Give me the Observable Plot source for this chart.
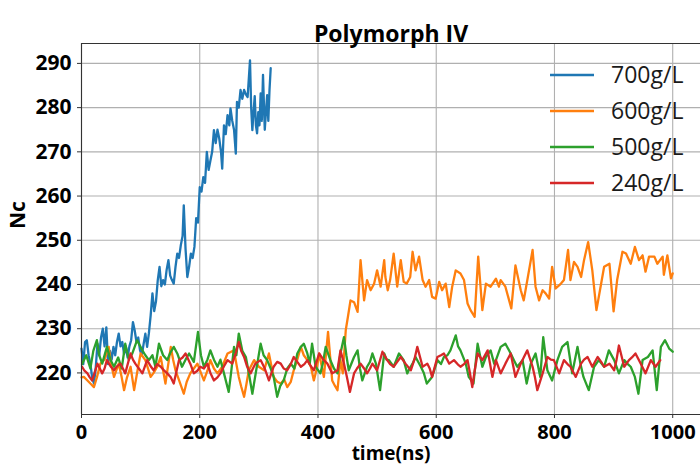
<!DOCTYPE html>
<html>
<head>
<meta charset="utf-8">
<script src="https://cdn.jsdelivr.net/npm/d3@7"></script>
<script src="https://cdn.jsdelivr.net/npm/@observablehq/plot@0.6"></script>
<style>
  body { margin: 0; background: #fff; }
  #wrap { position: relative; width: 700px; height: 470px; overflow: hidden; }
  #legend { position: absolute; left: 0; top: 0; pointer-events: none; }
</style>
</head>
<body>
<div id="wrap"></div>
<script>
// Nucleus size Nc over simulation time, one series per concentration
const title = "Polymorph IV";
const xLabel = "time(ns)";
const yLabel = "Nc";
const seriesNames = ["700g/L", "600g/L", "500g/L", "240g/L"];
const seriesColors = ["#1f77b4", "#ff7f0e", "#2ca02c", "#d62728"];
const xTicks = [0, 200, 400, 600, 800, 1000];
const yTicks = [220, 230, 240, 250, 260, 270, 280, 290];
const xDomain = [0, 1047];
const yDomain = [210.6, 294.5];

// [time (ns), Nc]
const run700 = [[0,225.5],[3,222],[6,227],[9,227.4],[12,224],[15,222.1],[18,219],[21,217.6],[24,221],[27,226.6],[30,224],[33,228],[36,230],[39,226],[42,230.3],[45,222],[48,225],[51,223],[54,225.9],[57,224],[60,227],[63,228.9],[66,226],[69,227],[72,224.3],[75,226],[78,223.5],[81,226],[84,227.4],[87,231.5],[90,229.6],[93,227],[96,228],[99,225.1],[102,224],[105,226.5],[108,228.9],[111,225.9],[114,229],[117,233],[120,238],[123,234],[126,236.2],[129,241],[132,244],[135,239.6],[138,241],[141,240],[144,243.3],[147,245.5],[150,242],[153,241],[156,240.2],[159,244],[162,247],[165,246],[168,248.9],[171,251],[173,257.9],[176,248],[179,241.7],[182,244],[185,247],[188,246],[191,248.5],[194,255],[197,254],[200,262],[203,261],[206,264.3],[209,263],[212,270],[215,265.9],[218,268],[221,270],[224,274.9],[227,272],[230,275],[233,273],[236,270],[238,266.2],[241,276],[244,274],[247,278.3],[250,276],[252,279.8],[255,277],[258,275],[261,269.6],[263,281.3],[266,280],[269,284],[272,282],[275,284],[278,283],[281,282.4],[285,290.7],[287,280],[289,274.9],[291,279],[293,282.6],[295,276],[297,274.2],[299,279],[301,276],[303,283.2],[305,277],[307,287.4],[309,279],[310,275],[312,279],[314,282.8],[316,277],[318,284],[320,288.9]];

const run600 = [[0,219],[4,219.1],[10,218.3],[15,217.6],[21,216.8],[26,219],[32,222.1],[39,223],[46,225.9],[50,222],[55,219.1],[63,222.1],[68,219],[72,216.1],[77,219],[83,221.4],[89,216.1],[94,220],[100,224.4],[108,222.9],[117,219.1],[122,220],[128,221.4],[134,223.6],[142,217.6],[151,225.9],[155,223],[159,220.6],[166,218],[173,215.3],[178,218],[184,219.9],[190,221],[196,222.1],[202,220],[207,218.3],[213,220.5],[218,222.9],[224,221],[230,219.9],[238,221.4],[247,224.4],[258,225.1],[262,222],[266,219.1],[270,217],[275,214.6],[279,217.5],[283,220.6],[292,222.9],[300,221.4],[309,220.6],[317,224.4],[325,219.1],[331,218],[337,217.6],[343,218.5],[348,216.8],[354,218],[359,220.6],[365,223],[371,225.9],[376,224],[382,222.9],[388,221.4],[393,218.3],[398,221],[402,224.4],[410,219.1],[417,229.3],[424,218.3],[429,217],[433,216.1],[438,222.9],[442,219.9],[447,229.7],[451,233],[455,236.4],[461,236],[467,233.8],[472,245.5],[478,236.4],[483,241],[489,238.7],[495,240.2],[500,243.2],[506,239.5],[512,245.5],[514,241.7],[518,238.7],[522,241],[528,247],[534,239.5],[540,245.5],[545,240.6],[550,240.2],[556,241.7],[560,247.4],[565,243.2],[571,246.3],[577,241],[582,239.5],[588,241],[593,237.2],[599,236.8],[605,240.6],[610,238.7],[616,240.2],[622,234.9],[627,239.5],[633,243.2],[641,242.5],[647,241],[653,235.7],[658,234.2],[665,232.7],[671,246.3],[678,234.2],[684,240.2],[692,239.5],[701,241.3],[706,239.5],[709,241],[717,239.5],[727,234.6],[734,244.3],[743,238.7],[748,236.4],[755,241.7],[763,247.8],[768,239.5],[774,236.4],[780,238.7],[785,238],[791,236.8],[796,244],[802,239.1],[811,240.2],[816,241],[823,247.8],[827,241],[833,245.1],[839,244],[845,241.7],[850,245.5],[857,249.6],[864,243.2],[871,234.2],[878,239.5],[884,244],[893,244.7],[900,233.9],[906,241],[915,247.4],[921,247],[929,244.7],[936,248.5],[943,245.5],[949,246.6],[954,242.9],[960,246.3],[969,246.3],[974,244.7],[983,246.3],[985,242.2],[991,246.6],[997,241.4],[1000,242.5]];

const run500 = [[1,222],[8,224],[15,221],[20,225],[26,227.4],[30,224],[35,222.1],[43,225.9],[49,223],[55,221.4],[62,223.5],[68,221],[74,226.6],[80,223],[86,224.4],[94,227.4],[103,225.1],[108,224],[114,222.9],[120,224],[125,221.4],[131,226.6],[138,224],[145,222.9],[150,224.5],[156,225.9],[162,224.4],[170,221.4],[176,223],[182,224.4],[190,222.5],[197,229.3],[202,224],[207,221.4],[213,223],[218,225.1],[224,223],[230,221.4],[235,223],[241,219.9],[249,215.7],[253,220],[258,225.9],[262,224],[266,228.9],[272,225],[278,223.6],[283,220],[289,215.3],[296,221],[303,226.6],[308,224],[314,222.9],[320,221],[325,219.1],[331,214.6],[336,217],[342,218.3],[348,221],[354,222.1],[360,221],[365,224.4],[371,225.9],[376,226.6],[382,224.4],[386,222],[390,226.6],[396,221.4],[404,219.9],[408,222],[413,225.9],[421,222.9],[427,221],[433,219.9],[438,224.4],[444,228.1],[448,224],[452,220.6],[461,223.6],[467,225.1],[471,221],[475,218.3],[483,221.4],[488,222.5],[492,224.4],[498,222.1],[505,216.1],[512,224.4],[516,223],[520,222.9],[528,221.4],[537,224.4],[545,222.9],[551,219.9],[555,221],[560,222.1],[565,223.6],[574,221.4],[579,220],[584,217.6],[593,219.1],[602,222.9],[608,222],[613,223.6],[619,224],[624,225.1],[633,228.5],[637,226],[641,225.1],[650,222.1],[655,219.1],[663,217.6],[670,226.6],[678,221.4],[684,223.6],[692,225.1],[698,222.1],[701,222.9],[709,225.9],[717,226.6],[726,224.4],[731,223],[737,221.4],[746,222.9],[753,217.6],[760,222.1],[768,224.4],[776,219.1],[781,228.1],[788,220.6],[796,218.3],[805,222.9],[813,225.9],[822,227],[830,219.9],[839,225.9],[844,222],[849,219.1],[858,216.1],[867,221.4],[875,222.9],[884,221.4],[892,225.1],[901,222.9],[909,219.9],[918,222.9],[924,222],[929,221.4],[936,219.1],[942,215.3],[949,222.9],[958,223.6],[966,225.1],[973,216.1],[980,225.9],[987,227.4],[994,225.5],[1000,224.8]];

const run240 = [[1,221.4],[5,220.5],[10,219.9],[14,219],[18,218.3],[22,220],[27,222.1],[31,221],[35,219.9],[39,221],[43,222.9],[49,221.5],[55,220.6],[60,221.5],[66,222.1],[74,219.9],[83,224.4],[87,223],[91,222.1],[97,221],[103,219.9],[111,222.9],[117,221.5],[122,220.6],[128,222],[134,221.4],[140,220.5],[145,219.9],[151,219],[156,217.6],[165,222.9],[171,223.5],[176,224.4],[184,222.1],[190,219.9],[196,220.5],[201,221.4],[207,221],[213,222.1],[218,220],[224,218.3],[230,219],[235,219.9],[241,221.5],[247,222.9],[255,222.1],[261,224.5],[266,227],[270,225],[275,223.6],[280,221.5],[286,219.9],[294,222.1],[303,222.9],[310,221],[317,218.3],[325,221.4],[331,222.5],[337,222.1],[342,221],[348,220.6],[354,222],[359,223.6],[365,222.5],[371,221.4],[377,222],[382,222.9],[388,221.5],[393,220.6],[402,224.4],[409,223],[416,222.1],[424,219.9],[433,220.6],[438,225.1],[444,222.1],[449,219],[454,215.7],[461,219.9],[466,221],[472,222.1],[478,221],[483,219.9],[488,221],[492,222.1],[500,220.6],[509,224.8],[517,222.9],[522,222],[528,221.4],[534,222.5],[540,223.6],[548,222.1],[557,220.6],[563,223],[568,225.9],[577,221.4],[585,222.1],[589,221],[593,219.1],[602,223.6],[608,224],[613,224.4],[622,222.1],[630,222.9],[636,222],[641,221.4],[647,222],[653,222.9],[657,220],[661,216.8],[665,220.5],[670,224.4],[678,222.9],[687,225.1],[695,219.1],[701,222.9],[709,219.9],[717,222.1],[726,224.4],[734,219.1],[743,222.1],[748,223.5],[754,225.1],[763,221.4],[767,219],[771,216.1],[780,219.9],[788,223.6],[794,223],[799,222.9],[808,219.9],[816,222.9],[822,222],[827,221.4],[836,219.1],[845,222.1],[850,223],[856,223.6],[864,221.4],[873,223.6],[879,222.5],[884,221.4],[893,222.1],[901,220.6],[905,223],[909,226.2],[918,221.4],[926,222.9],[931,223.5],[937,224.4],[946,222.1],[954,219.9],[963,222.9],[971,221.4],[979,222.9]];

const runs = [run700, run600, run500, run240];

const FONT = "'Open Sans', 'DejaVu Sans', sans-serif";
const gridStyle = {stroke: "#b0b0b0", strokeOpacity: 1, strokeWidth: 1.1};

const chart = Plot.plot({
  width: 700,
  height: 470,
  marginLeft: 81,
  marginRight: 0,
  marginTop: 43,
  marginBottom: 56,
  x: {domain: xDomain},
  y: {domain: yDomain},
  style: {fontFamily: FONT, fontSize: "21px", fontWeight: "bold", color: "#000", background: "#fff"},
  marks: [
    Plot.gridX({ticks: xTicks, ...gridStyle}),
    Plot.gridY({ticks: yTicks, ...gridStyle}),
    ...runs.map((run, i) => Plot.line(run, {
      x: d => d[0],
      y: d => d[1],
      stroke: seriesColors[i],
      strokeWidth: 2.3
    })),
    Plot.ruleX([xDomain[0]], {stroke: "#333", strokeWidth: 1.1}),
    Plot.ruleY(yDomain, {stroke: "#333", strokeWidth: 1.1}),
    Plot.axisX({ticks: xTicks, tickSize: 4, tickPadding: 6, tickFormat: d => String(d), label: null, stroke: "#333", fontSize: 20}),
    Plot.axisY({ticks: yTicks, tickSize: 4, tickPadding: 6, tickFormat: d => String(d), label: null, stroke: "#333"}),
    Plot.text([title], {text: d => d, frameAnchor: "top", dy: -18, fontSize: 23}),
    Plot.text([xLabel], {text: d => d, frameAnchor: "bottom", dy: 45, fontSize: 19}),
    Plot.text([yLabel], {text: d => d, frameAnchor: "left", dx: -63, rotate: -90, fontSize: 21})
  ]
});

const wrap = document.getElementById("wrap");
wrap.appendChild(chart);

// Legend: short line sample plus label for each concentration
const legend = d3.select(wrap).append("svg")
  .attr("id", "legend")
  .attr("width", 700)
  .attr("height", 470);
const rows = legend.selectAll("g")
  .data(seriesNames)
  .join("g")
  .attr("transform", (d, i) => `translate(550, ${75 + i * 36})`);
rows.append("line")
  .attr("x1", 0).attr("x2", 44)
  .attr("stroke", (d, i) => seriesColors[i])
  .attr("stroke-width", 2.6);
rows.append("text")
  .attr("x", 61)
  .attr("dy", "0.36em")
  .attr("font-family", FONT)
  .attr("font-size", 23)
  .attr("fill", "#1a1a1a")
  .text(d => d);
</script>
</body>
</html>
